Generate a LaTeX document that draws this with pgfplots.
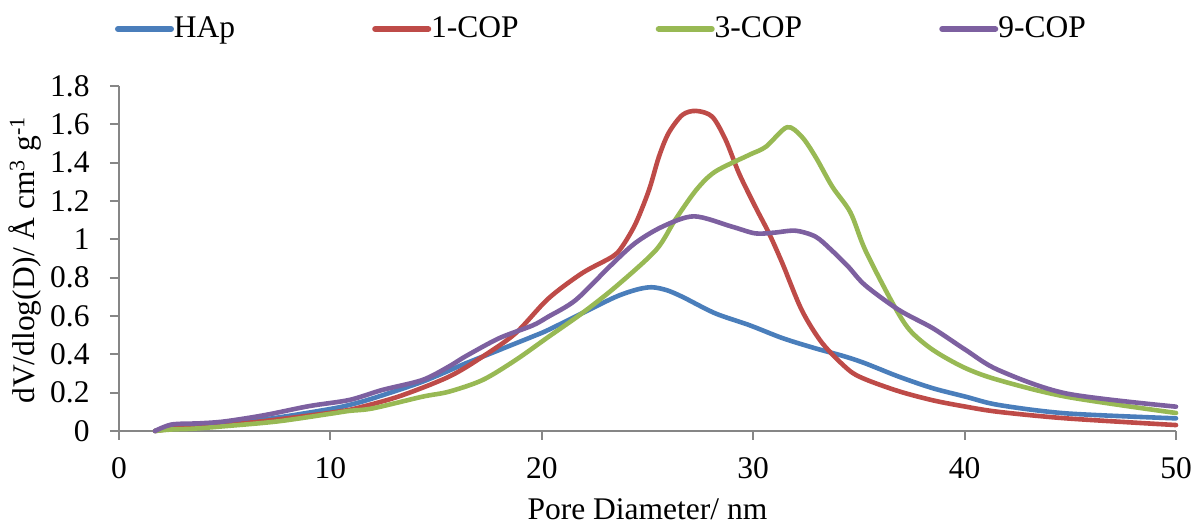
\documentclass[border=0pt]{standalone}
\usepackage{fontspec}
\setmainfont{Liberation Serif}
\usepackage{pgfplots}
\pgfplotsset{compat=1.18}
\definecolor{cHAp}{HTML}{4A7EBB}
\definecolor{cOne}{HTML}{BE4B48}
\definecolor{cThree}{HTML}{98B954}
\definecolor{cNine}{HTML}{7D60A0}
\definecolor{axgray}{HTML}{868686}
\begin{document}
\begin{tikzpicture}
\path[use as bounding box] (0,0) rectangle (598bp,262bp);
\begin{axis}[
  at={(59.5bp,46.5bp)}, anchor=south west,
  scale only axis, width=528.5bp, height=172.5bp,
  xmin=0, xmax=50, ymin=0, ymax=1.8,
  clip=false,
  axis lines=left,
  axis line style={-, draw=axgray, line width=1bp},
  tick align=outside,
  major tick length=4.5bp,
  tick style={draw=axgray, line width=1bp},
  xtick={0,10,20,30,40,50},
  ytick={0,0.2,0.4,0.6,0.8,1,1.2,1.4,1.6,1.8},
  font=\fontsize{15.75bp}{18bp}\selectfont,
  /pgf/number format/assume math mode=true,
  xticklabel style={inner sep=0pt, anchor=north, yshift=-8.5bp},
  yticklabel style={inner sep=0pt, anchor=east, xshift=-10bp},
  xlabel={Pore Diameter/ nm},
  ylabel={dV/dlog(D)/ Å cm\textsuperscript{3} g\textsuperscript{-1}},
  xlabel style={at={(axis description cs:0.5,-0.2551)}, anchor=base, inner sep=0pt},
  ylabel style={at={(axis description cs:-0.0886,0.496)}, anchor=center, inner sep=0pt},
  legend columns=4,
  legend style={at={(axis description cs:-0.0038,1.1652)}, anchor=west,
    draw=none, fill=none, inner sep=0pt, outer sep=0pt,
    nodes={inner sep=0pt},
    /tikz/every odd column/.append style={column sep=0bp},
    /tikz/every even column/.append style={column sep=68.5bp}},
  legend image code/.code={\draw[#1, line width=3bp, line cap=round] (0.75bp,0bp) -- (27.25bp,0bp);},
  every axis plot/.append style={line width=2.3bp, smooth, line join=round, line cap=round},
]
\addplot[cHAp] coordinates {
(1.7,0) (2.5,0.015) (3.5,0.022) (5,0.035) (7.5,0.07) (10,0.115) (10.9,0.136) (12,0.17)
(14.35,0.257) (16.4,0.353) (17.2,0.388) (19.55,0.492) (20.3,0.527) (21.9,0.614)
(23.5,0.70) (24.5,0.738) (25.2,0.75) (25.9,0.735) (26.65,0.70) (28.2,0.614)
(29.8,0.553) (31.4,0.484) (32.95,0.431) (34.3,0.39) (35.3,0.353) (36.9,0.283)
(38.5,0.223) (40.05,0.179) (41.6,0.136) (44.8,0.092) (50,0.066)};
\addlegendentry{HAp}
\addplot[cOne] coordinates {
(1.7,0) (2.5,0.012) (3.5,0.018) (5,0.03) (7.5,0.06) (10,0.095) (10.9,0.11) (13.2,0.179)
(15.6,0.283) (17.2,0.388) (18.76,0.51) (20.3,0.69) (21.9,0.823) (23.33,0.909)
(23.8,0.962) (24.44,1.083) (25.07,1.257) (25.54,1.431) (26.0,1.555) (26.65,1.649)
(27.3,1.67) (28.06,1.64) (28.7,1.518) (29.33,1.344) (30.1,1.17) (30.75,1.031)
(31.38,0.875) (32.3,0.63) (33.27,0.458) (34.5,0.32) (35.3,0.27) (36.9,0.207)
(38.5,0.16) (40.05,0.127) (41.6,0.10) (44.8,0.066) (50,0.031)};
\addlegendentry{1-COP}
\addplot[cThree] coordinates {
(1.7,0) (2.5,0.008) (3.5,0.012) (5,0.025) (7.5,0.05) (10,0.09) (10.9,0.105) (12,0.118)
(14.35,0.179) (15.6,0.205) (17.2,0.266) (18.76,0.37) (20.3,0.49) (21.9,0.614)
(23.5,0.753) (25.4,0.944) (26.3,1.10) (27.3,1.257) (28.2,1.353) (29.8,1.44)
(30.6,1.483) (31.6,1.585) (32.3,1.535) (32.95,1.43) (33.74,1.275) (34.6,1.14)
(35.3,0.944) (36.6,0.666) (37.4,0.527) (38.5,0.423) (40,0.33) (41.6,0.266)
(44.8,0.179) (50,0.094)};
\addlegendentry{3-COP}
\addplot[cNine] coordinates {
(1.7,0) (2.5,0.034) (3.8,0.04) (5,0.05) (6.9,0.083) (9,0.13) (10.9,0.162) (12.45,0.214)
(14.35,0.266) (15.6,0.336) (16.4,0.39) (17.98,0.484) (19.55,0.55) (20.3,0.596)
(21.6,0.683) (23.2,0.857) (24.4,0.979) (25.7,1.066) (27.2,1.12) (29.0,1.066)
(30.1,1.031) (31.0,1.035) (32.0,1.045) (32.95,1.014) (33.7,0.944) (34.5,0.857)
(35.3,0.76) (36.9,0.631) (38.5,0.536) (40.05,0.423) (41.6,0.318) (44.8,0.196) (50,0.127)};
\addlegendentry{9-COP}
\end{axis}
\end{tikzpicture}
\end{document}
